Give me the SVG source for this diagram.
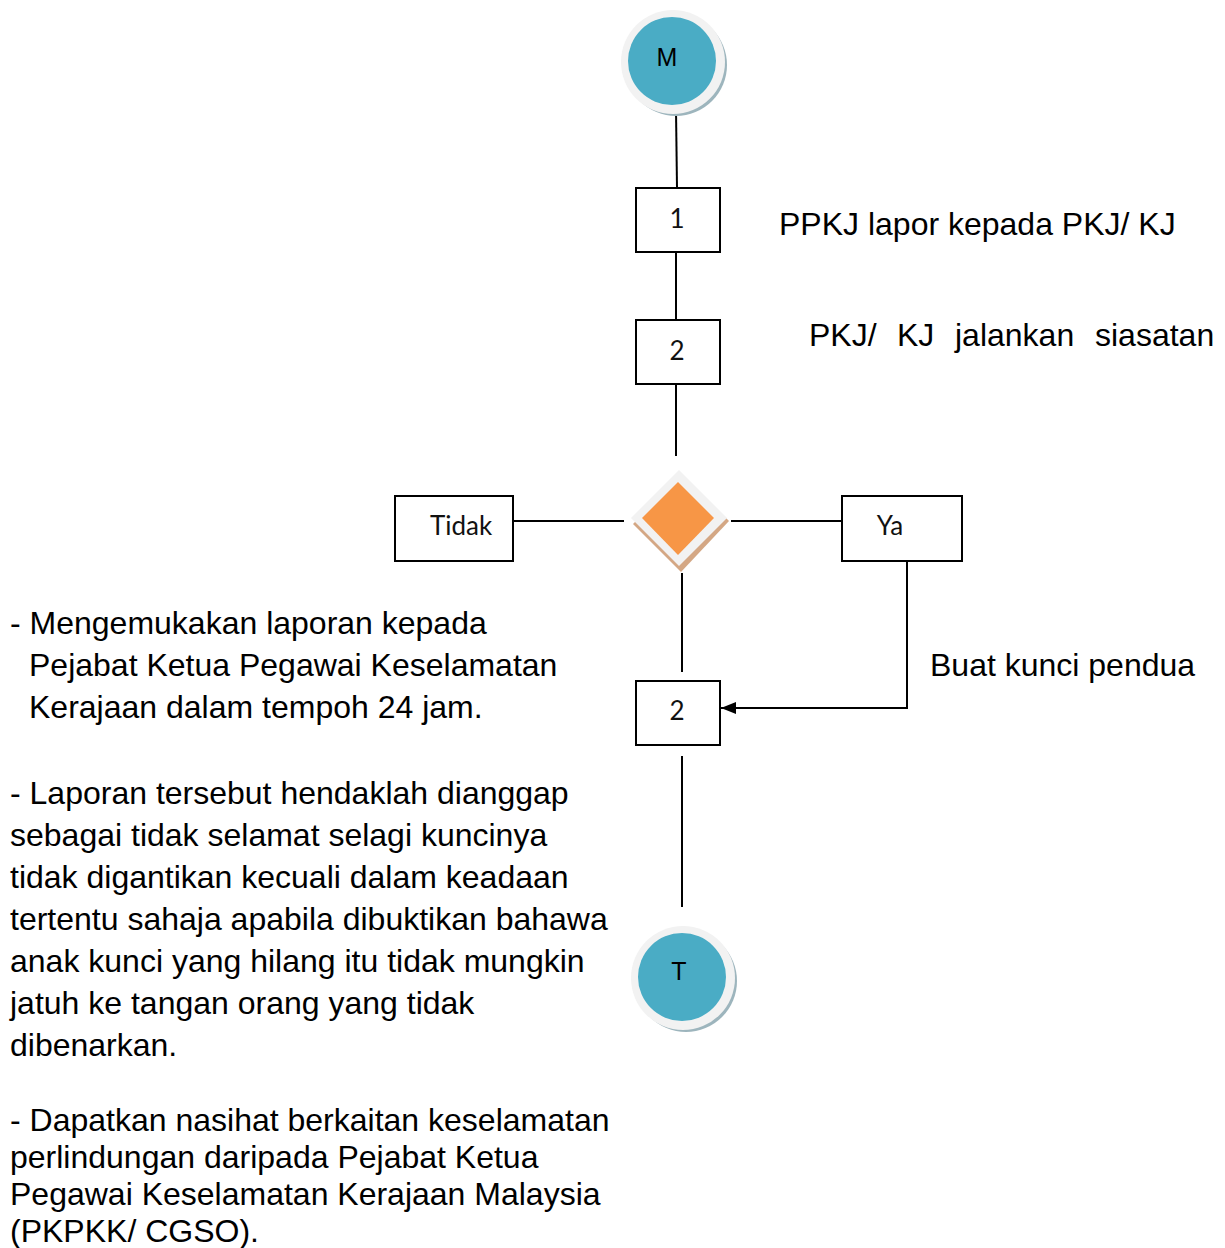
<svg xmlns="http://www.w3.org/2000/svg" width="1225" height="1248" viewBox="0 0 1225 1248">
<defs>
<marker id="arr" markerWidth="16" markerHeight="14" refX="15" refY="7" orient="auto" markerUnits="userSpaceOnUse">
<path d="M0,1 L15,7 L0,13 z" fill="#000"/>
</marker>
</defs>
<style>
.ln{stroke:#000;stroke-width:2;fill:none}
.box{fill:#fff;stroke:#000;stroke-width:2}
.bl{font-family:Lato,"Open Sans",sans-serif;font-size:26px;fill:#111;text-anchor:middle}
.cl{font-family:"Liberation Sans",Arial,sans-serif;font-size:25px;fill:#000;text-anchor:middle}
.tx{font-family:"Liberation Sans",Arial,sans-serif;font-size:32px;fill:#000}
.ring{fill:#f2f2f2}
.shad{fill:#9db5bd}
.blue{fill:#4aacc5}
</style>
<rect width="1225" height="1248" fill="#fff"/>
<g id="connectors">
<line class="ln" x1="676" y1="110" x2="677" y2="188"/>
<line class="ln" x1="676" y1="252" x2="676" y2="320"/>
<line class="ln" x1="676" y1="384" x2="676" y2="456"/>
<line class="ln" x1="513" y1="521" x2="624" y2="521"/>
<line class="ln" x1="731" y1="521" x2="842" y2="521"/>
<line class="ln" x1="682" y1="573" x2="682" y2="672"/>
<polyline class="ln" points="907,561 907,708 721,708" marker-end="url(#arr)"/>
<line class="ln" x1="682" y1="756" x2="682" y2="907"/>
</g>
<g id="node-M">
<circle class="shad" cx="676" cy="65" r="51"/>
<circle class="ring" cx="673" cy="62" r="52"/>
<circle class="blue" cx="672" cy="61" r="44"/>
<text class="cl" x="667" y="66">M</text>
</g>
<g id="node-1">
<rect class="box" x="636" y="188" width="84" height="64"/>
<text class="bl" x="677" y="228">1</text>
</g>
<g id="node-2a">
<rect class="box" x="636" y="320" width="84" height="64"/>
<text class="bl" x="677" y="360">2</text>
</g>
<g id="node-decision">
<polygon points="682,474 729,521 681,572 633,524" fill="#d4a784"/>
<polygon points="679,470 727,518 679,566 631,518" fill="#f2f2f2"/>
<polygon points="678,482 714,518 678,555 642,518" fill="#f79646"/>
</g>
<g id="node-tidak">
<rect class="box" x="395" y="496" width="118" height="65"/>
<text class="bl" x="461" y="535">Tidak</text>
</g>
<g id="node-ya">
<rect class="box" x="842" y="496" width="120" height="65"/>
<text class="bl" x="890" y="535">Ya</text>
</g>
<g id="node-2b">
<rect class="box" x="636" y="681" width="84" height="64"/>
<text class="bl" x="677" y="720">2</text>
</g>
<g id="node-T">
<circle class="shad" cx="686" cy="981" r="51"/>
<circle class="ring" cx="683" cy="978" r="52"/>
<circle class="blue" cx="682" cy="977" r="44"/>
<text class="cl" x="679" y="980">T</text>
</g>
<g id="texts">
<text class="tx" x="779" y="235">PPKJ lapor kepada PKJ/ KJ</text>
<text class="tx" y="346"><tspan x="809">PKJ/</tspan><tspan x="897">KJ</tspan><tspan x="955">jalankan</tspan><tspan x="1095">siasatan</tspan></text>
<text class="tx" x="930" y="676">Buat kunci pendua</text>
<text class="tx" x="10" y="634">- Mengemukakan laporan kepada</text>
<text class="tx" x="29" y="676">Pejabat Ketua Pegawai Keselamatan</text>
<text class="tx" x="29" y="718">Kerajaan dalam tempoh 24 jam.</text>
<text class="tx" x="10" y="804">- Laporan tersebut hendaklah dianggap</text>
<text class="tx" x="10" y="846">sebagai tidak selamat selagi kuncinya</text>
<text class="tx" x="10" y="888">tidak digantikan kecuali dalam keadaan</text>
<text class="tx" x="10" y="930">tertentu sahaja apabila dibuktikan bahawa</text>
<text class="tx" x="10" y="972">anak kunci yang hilang itu tidak mungkin</text>
<text class="tx" x="10" y="1014">jatuh ke tangan orang yang tidak</text>
<text class="tx" x="10" y="1056">dibenarkan.</text>
<text class="tx" x="10" y="1131">- Dapatkan nasihat berkaitan keselamatan</text>
<text class="tx" x="10" y="1168">perlindungan daripada Pejabat Ketua</text>
<text class="tx" x="10" y="1205">Pegawai Keselamatan Kerajaan Malaysia</text>
<text class="tx" x="10" y="1242">(PKPKK/ CGSO).</text>
</g>
</svg>
